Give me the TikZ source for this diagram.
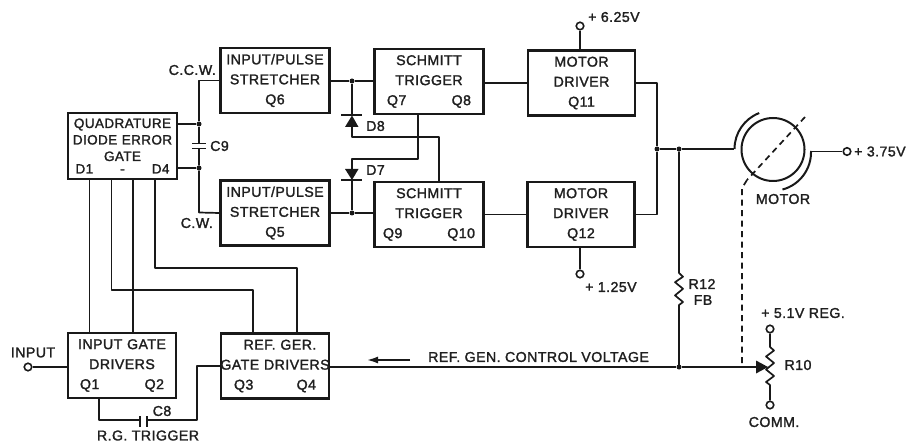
\documentclass[tikz,border=0pt]{standalone}
\usepackage{fontspec}
\setmainfont{Liberation Sans}[LetterSpace=3,FakeBold=1.6]
\usetikzlibrary{arrows.meta,calc}
\tikzset{
  every node/.style={font=\fontsize{14.2}{20}\selectfont,inner sep=0pt,text=black!88},
  blk/.style={draw=black!90,line width=2.4pt,minimum height=65pt,align=center},
  wide/.style={blk,minimum width=109pt,text width=100pt},
  wire/.style={draw=black!90,line width=1.7pt,line join=round},
  dot/.style={circle,fill=black!90,minimum size=5pt},
  term/.style={circle,draw=black!90,fill=white,line width=1.6pt,minimum size=7.5pt},
  lbl/.style={anchor=center},
  dashwire/.style={wire,dash pattern=on 6pt off 4.5pt}
}
\begin{document}
\begin{tikzpicture}[x=1pt,y=-1pt]
\useasboundingbox (0,0) rectangle (920,443);
\fill[white] (0,0) rectangle (920,443);
% blocks
\node[blk,minimum width=109pt,minimum height=66pt,text width=104pt,font=\fontsize{13.5}{16.5}\selectfont] (quad) at (122.5,146) {\mbox{QUADRATURE}\\\mbox{DIODE ERROR}\\GATE\\[-4pt]\makebox[94pt]{D1\hfill-\hfill D4}};
\node[wide] (q6) at (275,80.5) {\mbox{INPUT/PULSE}\\STRETCHER\\Q6};
\node[wide] (q5) at (275,213) {\mbox{INPUT/PULSE}\\STRETCHER\\Q5};
\node[wide] (st1) at (429,81.5) {SCHMITT\\TRIGGER\\\makebox[84pt]{Q7\hfill Q8}};
\node[wide] (st2) at (429,214.5) {SCHMITT\\TRIGGER\\\makebox[92pt]{Q9\hfill Q10}};
\node[wide,minimum width=107pt] (md1) at (581.5,83) {MOTOR\\DRIVER\\Q11};
\node[wide,minimum width=107pt] (md2) at (581,214.5) {MOTOR\\DRIVER\\Q12};
\node[wide,minimum width=108pt] (ig) at (122,365.5) {\mbox{INPUT GATE}\\DRIVERS\\\makebox[84pt]{Q1\hfill Q2}};
\node[wide,minimum width=108pt] (rg) at (275,366) {\hspace*{10pt}REF. GER.\\\makebox[100pt][c]{GATE DRIVERS}\\\makebox[82pt]{Q3\hfill Q4}};
% coordinates
\coordinate (j1) at (199,124);
\coordinate (j2) at (199,168);
\coordinate (ja) at (657,149);
\coordinate (jb) at (679,149);
\coordinate (jc) at (679,367);
\coordinate (mot) at (773,149.5);
% capacitor C9 and the Q6/Q5 feeds
\node[dot] (d1) at (j1) {};
\node[dot] (d2) at (j2) {};
\draw[wire] (q6.west) -- (199,80.5) -- (d1) -- (199,143.5);
\draw[wire] (199,148.5) -- (d2) -- (199,212.5) -- (q5.west);
\draw[wire,line width=1.8pt] (192,143.5) -- (206,143.5) (192,148.5) -- (206,148.5);
\draw[wire] (d1) -- (d1 -| quad.east);
\draw[wire] (d2) -- (d2 -| quad.east);
% to schmitt triggers and diodes
\node[dot] (d3) at (352,81) {};
\node[dot] (d4) at (352,213) {};
\draw[wire] (q6.east |- d3) -- (d3) -- (d3 -| st1.west);
\draw[wire] (q5.east |- d4) -- (d4) -- (d4 -| st2.west);
\draw[wire] (d3) -- (352,115);
\draw[wire,line width=2pt] (341,115) -- (362,115);
\fill[black!90] (352,115.5) -- (345,127) -- (358.5,127) -- cycle;
\draw[wire] (352,127) -- (352,137) -- (439,137) -- (439,182);
\draw[wire] (418,114) -- (418,159) -- (352,159) -- (352,169);
\fill[black!90] (352,180) -- (345,169) -- (358.5,169) -- cycle;
\draw[wire,line width=2pt] (341,180.5) -- (362,180.5);
\draw[wire] (352,180) -- (d4);
\node[lbl,anchor=west] (d8l) at (366,126) {D8};
\node[lbl,anchor=west] (d7l) at (366,170) {D7};
\node[lbl,anchor=east] (ccw) at (216,70) {C.C.W.};
\node[lbl,anchor=east] (cw) at (213,223) {C.W.};
\node[lbl,anchor=west] (c9l) at (210,146) {C9};
% to motor drivers
\draw[wire] (st1.east |- md1.west) -- (md1.west);
\draw[wire] (st2.east |- md2.west) -- (md2.west);
\node[term] (t625) at (580,26) {};
\node[term] (t125) at (580,274) {};
\draw[wire] (t625) -- (t625 |- md1.north);
\draw[wire] (t125) -- (t125 |- md2.south);
\node[lbl,anchor=west] (l625) at (588,17) {+ 6.25V};
\node[lbl,anchor=west] (l125) at (585,287) {+ 1.25V};
\node[dot] (d5) at (ja) {};
\node[dot] (d6) at (jb) {};
\draw[wire] (md1.east) -- (657,83) -- (d5) -- (657,214.5) -- (md2.east);
\draw[wire] (d5) -- (d6) -- (734,149);
% motor
\draw[line width=2pt,black!90] (mot) circle (31.5pt);
\draw[line width=2pt,black!90] (734.5,149) arc[start angle=180,end angle=111,radius=38.5pt];
\draw[line width=2pt,black!90] (811,151) arc[start angle=2,end angle=-75,radius=38.5pt];
\node[term] (t375) at (847,151.5) {};
\draw[wire] (811,151.5) -- (t375);
\node[lbl,anchor=west] (l375) at (854,151.5) {+ 3.75V};
\node[lbl] (motl) at (783,199) {MOTOR};
\draw[dashwire] (805,117) -- (747,180);
\draw[dashwire] (747,180) -- (742,188) -- (742,367);
% R12
\draw[wire] (d6) -- (679,273) -- ++(4,3.7) -- ++(-8,5.5) -- ++(8,6.6) -- ++(-8,6.6) -- ++(8,6.6) -- ++(-4,3) -- (679,367);
\node[lbl] (r12) at (702,284) {R12};
\node[lbl] (fb) at (703,300) {FB};
% control voltage line and R10
\node[dot] (d7) at (jc) {};
\node[term] (t51) at (770,329) {};
\node[term] (tcom) at (770,405) {};
\draw[wire] (rg.east |- d7) -- (d7) -- (760,367);
\fill[black!90] (768,367) -- (756,360.5) -- (756,373.5) -- cycle;
\draw[wire] (t51) -- (770,347) -- ++(4,3.5) -- ++(-8,6) -- ++(8,6.5) -- ++(-8,6.5) -- ++(8,6.5) -- ++(-8,6) -- ++(4,3) -- (tcom);
\node[lbl] (r10) at (798,365) {R10};
\node[lbl] (l51) at (803,313) {+ 5.1V REG.};
\node[lbl] (lcom) at (774,422) {COMM.};
\node[lbl,anchor=west] (ctl) at (428,357) {REF. GEN. CONTROL VOLTAGE};
\coordinate (ar1) at (410,360);
\coordinate (ar2) at (367,360);
\draw[wire,-{Latex[length=11pt,width=7pt]}] (ar1) -- (ar2);
% quadrature to drivers
\coordinate (c1) at (89.5,0);
\coordinate (c2) at (111.5,0);
\coordinate (c3) at (133,0);
\coordinate (c4) at (155,0);
\draw[wire] (c1 |- quad.south) -- (c1 |- ig.north);
\draw[wire] (c3 |- quad.south) -- (c3 |- ig.north);
\draw[wire] (c2 |- quad.south) -- (111.5,290) -- (253,290) -- (253,333);
\draw[wire] (c4 |- quad.south) -- (155,268) -- (297,268) -- (297,333);
% input
\node[term] (tin) at (28,367) {};
\draw[wire] (tin) -- (tin -| ig.west);
\node[lbl] (inl) at (33,352.5) {INPUT};
% C8
\draw[wire] (99,398) -- (99,420) -- (140,420);
\draw[wire] (147,420) -- (197,420) -- (197,366) -- (rg.west);
\draw[wire,line width=1.8pt] (140,416) -- (140,427) (147,416) -- (147,427);
\node[lbl] (c8l) at (162,411) {C8};
\node[lbl] (rgt) at (148,435.5) {R.G. TRIGGER};
\end{tikzpicture}
\end{document}
